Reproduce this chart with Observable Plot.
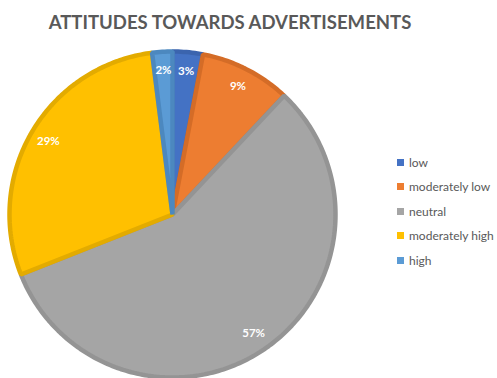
<!DOCTYPE html>
<html>
<head>
<meta charset="utf-8">
<script src="https://cdn.jsdelivr.net/npm/d3@7"></script>
<script src="https://cdn.jsdelivr.net/npm/@observablehq/plot@0.6"></script>
<style>
  html, body { margin: 0; padding: 0; background: #fff; }
  #wrap { position: relative; width: 497px; height: 378px; overflow: hidden; font-family: Lato, "Open Sans", sans-serif; }
  #title { position: absolute; left: 0; top: 11px; width: 460px; text-align: center; font-weight: 700; font-size: 17.5px; color: #595959; white-space: nowrap; }
  #legend { position: absolute; left: 397px; top: 150px; font-size: 12px; color: #595959; }
  .item { height: 24.5px; display: flex; align-items: center; white-space: nowrap; }
  .sw { width: 7px; height: 7px; margin-right: 5px; }
  #chart { position: absolute; left: 0; top: 0; }
</style>
</head>
<body>
<div id="wrap">
  <div id="chart"></div>
  <div id="title">ATTITUDES TOWARDS ADVERTISEMENTS</div>
  <div id="legend"></div>
</div>
<script>
const categories = ["low", "moderately low", "neutral", "moderately high", "high"];
const values = [3, 9, 57, 29, 2];
const fills = ["#4472C4", "#ED7D31", "#A5A5A5", "#FFC000", "#5B9BD5"];
const strokes = ["#3B64AE", "#D46C27", "#949494", "#E3AB00", "#4C88BF"];
const title = "ATTITUDES TOWARDS ADVERTISEMENTS";

const total = d3.sum(values);
const arcs = [];
const labels = [];
let acc = 0;
categories.forEach((c, i) => {
  const a0 = acc / total * 2 * Math.PI;
  acc += values[i];
  const a1 = acc / total * 2 * Math.PI;
  const n = Math.max(2, Math.ceil((a1 - a0) / (Math.PI / 180)));
  arcs.push({key: c, i, px: 0, py: 0});
  for (let k = 0; k <= n; k++) {
    const a = a0 + (a1 - a0) * k / n;
    arcs.push({key: c, i, px: Math.sin(a), py: Math.cos(a)});
  }
  const m = (a0 + a1) / 2;
  labels.push({key: c, text: Math.round(values[i] / total * 100) + "%", px: 0.885 * Math.sin(m), py: 0.885 * Math.cos(m)});
});

const plot = Plot.plot({
  width: 497,
  height: 378,
  marginLeft: 9,
  marginRight: 162,
  marginTop: 51,
  marginBottom: 1,
  x: {domain: [-1, 1], axis: null},
  y: {domain: [-1, 1], axis: null},
  color: {type: "identity"},
  marks: [
    Plot.line(arcs, {
      x: "px", y: "py", z: "key",
      fill: d => fills[d.i],
      stroke: d => strokes[d.i],
      strokeWidth: 4.5,
      strokeLinejoin: "miter",
      curve: "linear-closed"
    }),
    Plot.text(labels, {
      x: "px", y: "py", text: "text",
      fill: "white", fontWeight: 700, fontSize: 11.5,
      fontFamily: "Lato, 'Open Sans', sans-serif"
    })
  ]
});
document.getElementById("chart").appendChild(plot);

const legend = document.getElementById("legend");
categories.forEach((c, i) => {
  const it = document.createElement("div");
  it.className = "item";
  const sw = document.createElement("span");
  sw.className = "sw";
  sw.style.background = fills[i];
  const tx = document.createElement("span");
  tx.textContent = c;
  it.appendChild(sw); it.appendChild(tx);
  legend.appendChild(it);
});

// fit title to reference width (~363px)
const t = document.getElementById("title");
t.textContent = title;
const probe = document.createElement("span");
probe.style.cssText = "font-weight:700;font-size:17.5px;white-space:nowrap;font-family:Lato,'Open Sans',sans-serif;position:absolute;visibility:hidden";
probe.textContent = title;
document.body.appendChild(probe);
const w = probe.getBoundingClientRect().width;
probe.remove();
t.style.fontSize = (17.5 * 363 / w).toFixed(2) + "px";
</script>
</body>
</html>
